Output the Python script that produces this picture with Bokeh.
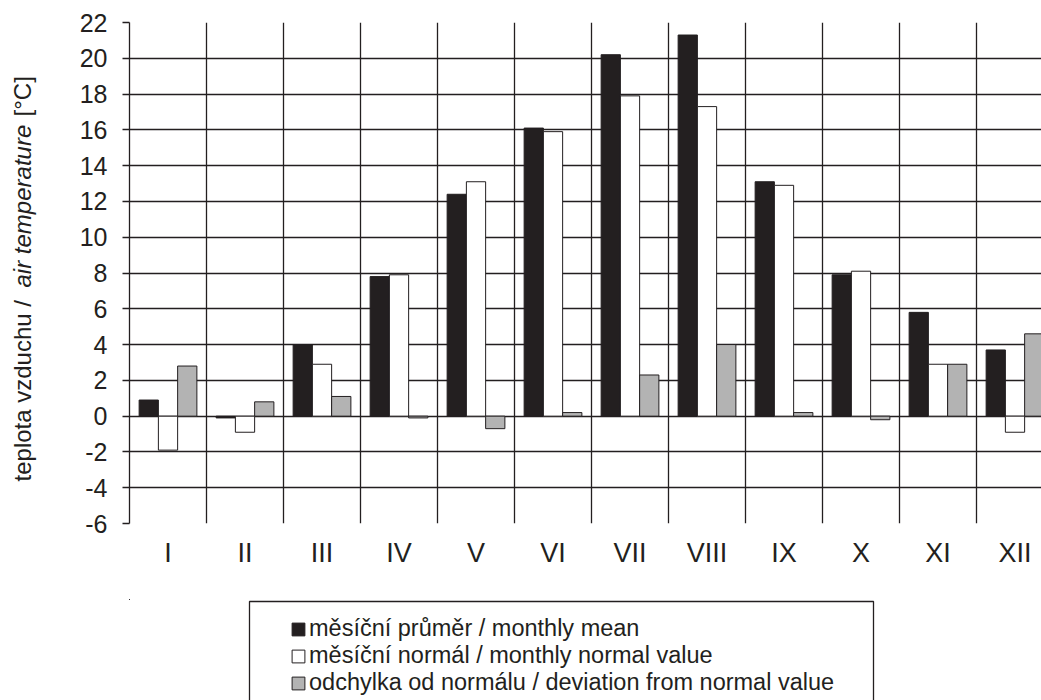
import numpy as np
from bokeh.plotting import figure
from bokeh.models import (Range1d, FixedTicker, Label, Legend, LegendItem,
                          ColumnDataSource, BoxAnnotation)
from bokeh.layouts import gridplot
from bokeh.transform import dodge
from bokeh.embed import file_html
from bokeh.resources import INLINE

# ---- data ----
months = ["I", "II", "III", "IV", "V", "VI", "VII", "VIII", "IX", "X", "XI", "XII"]
monthly_mean = [0.9, -0.1, 4.0, 7.8, 12.4, 16.1, 20.2, 21.3, 13.1, 7.9, 5.8, 3.7]
monthly_normal = [-1.9, -0.9, 2.9, 7.9, 13.1, 15.9, 17.9, 17.3, 12.9, 8.1, 2.9, -0.9]
deviation = [2.8, 0.8, 1.1, -0.1, -0.7, 0.2, 2.3, 4.0, 0.2, -0.2, 2.9, 4.6]
y_ticks = list(range(-6, 23, 2))
series_labels = ["měsíční průměr / monthly mean",
                 "měsíční normál / monthly normal value",
                 "odchylka od normálu / deviation from normal value"]

INK = "#231f20"
GREY = "#b3b3b3"
FONT = "Liberation Sans"

W, H = 1041, 700
TITLE_W = 45          # strip with the y title
TOP_H = 599           # chart part height; legend part below
TOP, BOTTOM = 22, 76  # chart frame borders
LEFT = 129 - TITLE_W

centers = [i + 0.5 for i in range(len(months))]
src = ColumnDataSource(dict(x=centers, mean=monthly_mean,
                            normal=monthly_normal, dev=deviation))

# ---------------- main chart ----------------
p = figure(width=W - TITLE_W, height=TOP_H,
           x_range=Range1d(0, (W - 129) / 77), y_range=Range1d(-6, 22),
           output_backend="svg", toolbar_location=None,
           min_border_left=LEFT, min_border_right=0,
           min_border_top=TOP, min_border_bottom=BOTTOM)
p.outline_line_color = None

p.xgrid.ticker = FixedTicker(ticks=list(range(13)))
p.ygrid.ticker = FixedTicker(ticks=y_ticks)
for g in (p.xgrid, p.ygrid):
    g.grid_line_color = INK
    g.grid_line_width = 1.3
    g.grid_line_alpha = 1.0

p.yaxis.ticker = FixedTicker(ticks=y_ticks)
p.yaxis.major_label_overrides = {t: str(t) for t in y_ticks}
p.yaxis.major_tick_out = 7
p.yaxis.major_tick_in = 0
p.yaxis.minor_tick_out = 0
p.yaxis.minor_tick_in = 0
p.yaxis.axis_line_color = INK
p.yaxis.axis_line_width = 1.3
p.yaxis.major_tick_line_color = INK
p.yaxis.major_tick_line_width = 1.3
p.yaxis.major_label_standoff = 15
p.yaxis.major_label_text_font = FONT
p.yaxis.major_label_text_font_size = "25px"
p.yaxis.major_label_text_color = INK

p.xaxis.ticker = FixedTicker(ticks=centers)
p.xaxis.major_label_overrides = {c: m for c, m in zip(centers, months)}
p.xaxis.axis_line_color = None
p.xaxis.major_tick_line_color = None
p.xaxis.minor_tick_line_color = None
p.xaxis.major_tick_out = 0
p.xaxis.major_tick_in = 0
p.xaxis.minor_tick_out = 0
p.xaxis.major_label_standoff = 14
p.xaxis.major_label_text_font = FONT
p.xaxis.major_label_text_font_size = "27px"
p.xaxis.major_label_text_color = INK

styles = [dict(fill_color=INK), dict(fill_color="white"), dict(fill_color=GREY)]
fields = ["mean", "normal", "dev"]
offsets = [-0.25, 0.0, 0.25]
for f, off, st in zip(fields, offsets, styles):
    p.vbar(x=dodge("x", off, range=p.x_range), top=f, width=0.25, source=src,
           line_color=INK, line_width=1, **st)

# ---------------- y title strip ----------------
t = figure(width=TITLE_W, height=TOP_H, x_range=Range1d(0, TITLE_W),
           y_range=Range1d(-6, 22), output_backend="svg", toolbar_location=None,
           x_axis_type=None, y_axis_type=None,
           min_border_left=0, min_border_right=0,
           min_border_top=TOP, min_border_bottom=BOTTOM)
t.outline_line_color = None
t.xgrid.visible = False
t.ygrid.visible = False

common = dict(x=22, angle=np.pi / 2, text_align="left", text_baseline="middle",
              text_font=FONT, text_font_size="24px", text_color=INK)
t.add_layout(Label(y=-3.65, text="teplota vzduchu  / ", **common))
t.add_layout(Label(y=7.19, text="air temperature", text_font_style="italic", **common))
t.add_layout(Label(y=16.75, text="[°C]", **common))

# ---------------- legend strip (pixel coordinates) ----------------
leg = figure(width=W - TITLE_W, height=H - TOP_H,
             x_range=Range1d(129, W), y_range=Range1d(H, TOP_H),
             output_backend="svg", toolbar_location=None,
             x_axis_type=None, y_axis_type=None,
             min_border_left=LEFT, min_border_right=0,
             min_border_top=0, min_border_bottom=0)
leg.outline_line_color = None
leg.xgrid.visible = False
leg.ygrid.visible = False

leg.add_layout(BoxAnnotation(left=249, right=873, top=601, bottom=H + 20,
                             fill_alpha=0, line_color=INK, line_width=1.3,
                             line_alpha=1))

items = []
for f, st, lab in zip(fields, styles, series_labels):
    r = leg.vbar(x="x", top=f, width=0.25, source=src,
                 line_color=INK, line_width=1, **st)
    items.append(LegendItem(label=lab, renderers=[r]))

legend = Legend(items=items, location=(161, 4), padding=0, margin=0, spacing=0,
                label_standoff=3, glyph_width=16, glyph_height=16,
                label_height=20,
                label_text_font=FONT, label_text_font_size="23.5px",
                label_text_color=INK,
                border_line_alpha=0, background_fill_alpha=0)
leg.add_layout(legend, "center")

grid = gridplot([[t, p], [None, leg]], toolbar_location=None)
open("out.html", "w").write(file_html(grid, INLINE))
